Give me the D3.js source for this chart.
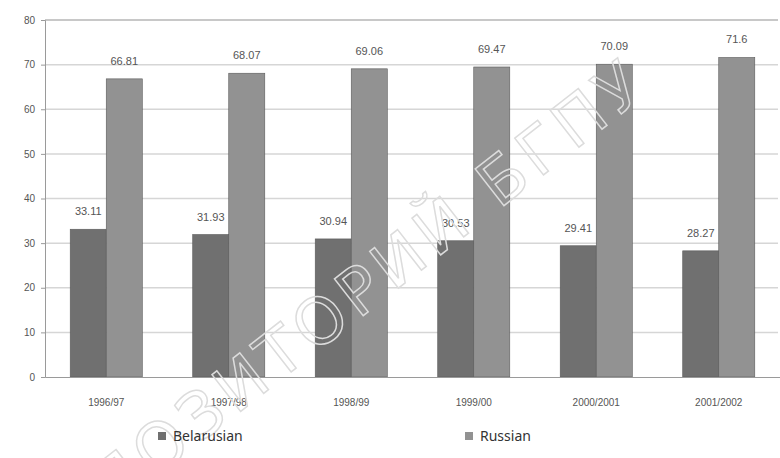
<!DOCTYPE html>
<html><head><meta charset="utf-8">
<script src="https://cdn.jsdelivr.net/npm/d3@7"></script>
<style>body{margin:0;background:#fff}svg{display:block}</style>
</head><body>
<svg id="c" width="780" height="458"></svg>
<script>
const categories = ["1996/97","1997/98","1998/99","1999/00","2000/2001","2001/2002"];
const seriesNames = ["Belarusian","Russian"];
const belarusian = [33.11, 31.93, 30.94, 30.53, 29.41, 28.27];
const russian = [66.81, 68.07, 69.06, 69.47, 70.09, 71.6];
const yTicks = [0,10,20,30,40,50,60,70,80];
const colors = ["#707070","#929292"];

const svg = d3.select("#c");
const W = 780, H = 458;
const m = {left:45, right:0, top:20, bottom:81};
const x = d3.scaleBand().domain(categories).range([m.left, W - m.right]).padding(0);
const sub = d3.scaleBand().domain(seriesNames).range([0, x.bandwidth()]).paddingInner(0).paddingOuter(0.7);
const y = d3.scaleLinear().domain([0,80]).range([H - m.bottom, m.top]);

// gridlines
svg.append("g").selectAll("line").data(yTicks.filter(d=>d>0)).join("line")
  .attr("x1", m.left).attr("x2", W - 2)
  .attr("y1", d=>y(d)).attr("y2", d=>y(d))
  .attr("stroke", d=> d===80 ? "#c8c8c8" : "#d6d6d6").attr("stroke-width", d=> d===80?2:1.5);

// y axis
const ya = svg.append("g").attr("transform",`translate(${m.left},0)`)
  .call(d3.axisLeft(y).tickValues(yTicks).tickSize(4).tickPadding(6));
ya.select(".domain").attr("stroke","#9a9a9a");
ya.selectAll(".tick line").attr("stroke","#9a9a9a");
ya.selectAll("text").attr("font-family","Liberation Sans Narrow, Liberation Sans, sans-serif")
  .attr("font-size",10).attr("fill","#555");

// bars
const data = categories.map((c,i)=>({c, vals:[belarusian[i], russian[i]]}));
const g = svg.append("g").selectAll("g").data(data).join("g")
  .attr("transform", d=>`translate(${x(d.c)},0)`);
g.selectAll("rect").data(d=>d.vals.map((v,j)=>({k:seriesNames[j], v, j}))).join("rect")
  .attr("x", d=>sub(d.k)).attr("width", sub.bandwidth())
  .attr("y", d=>y(d.v)).attr("height", d=>y(0)-y(d.v))
  .attr("fill", d=>colors[d.j]).attr("stroke","#5a5a5a").attr("stroke-width",0.6);
g.selectAll("text").data(d=>d.vals.map((v,j)=>({k:seriesNames[j], v, j}))).join("text")
  .attr("x", d=>sub(d.k)+sub.bandwidth()/2).attr("y", d=>y(d.v)-14)
  .attr("text-anchor","middle")
  .attr("font-family","Liberation Sans Narrow, Liberation Sans, sans-serif").attr("font-size",11).attr("fill","#555")
  .text(d=>String(d.v));

// x axis
const xa = svg.append("g").attr("transform",`translate(0,${y(0)})`)
  .call(d3.axisBottom(x).tickSize(0).tickPadding(22));
xa.select(".domain").attr("stroke","#9a9a9a");
xa.selectAll("text").attr("font-family","Liberation Sans Narrow, Liberation Sans, sans-serif")
  .attr("font-size",10).attr("fill","#555");

// watermark (faint outline)
svg.append("text")
  .attr("transform","translate(652,90) rotate(-38)")
  .attr("text-anchor","end")
  .attr("font-family","DejaVu Sans, sans-serif").attr("font-size",64)
  .attr("letter-spacing",6)
  .attr("fill","none").attr("stroke","#dcdcdc").attr("stroke-width",1.5)
  .text("РЕПОЗИТОРИЙ БГПУ");

// legend
const legX = [158, 465];
const lg = svg.append("g").selectAll("g").data(seriesNames).join("g")
  .attr("transform",(d,i)=>`translate(${legX[i]},437)`);
lg.append("rect").attr("x",0).attr("y",-5).attr("width",8).attr("height",8)
  .attr("fill",(d,i)=>colors[i]);
lg.append("text").attr("x",15).attr("y",4).attr("font-family","Noto Sans, sans-serif")
  .attr("font-size",14).attr("fill","#333").text(d=>d);
</script>
</body></html>
